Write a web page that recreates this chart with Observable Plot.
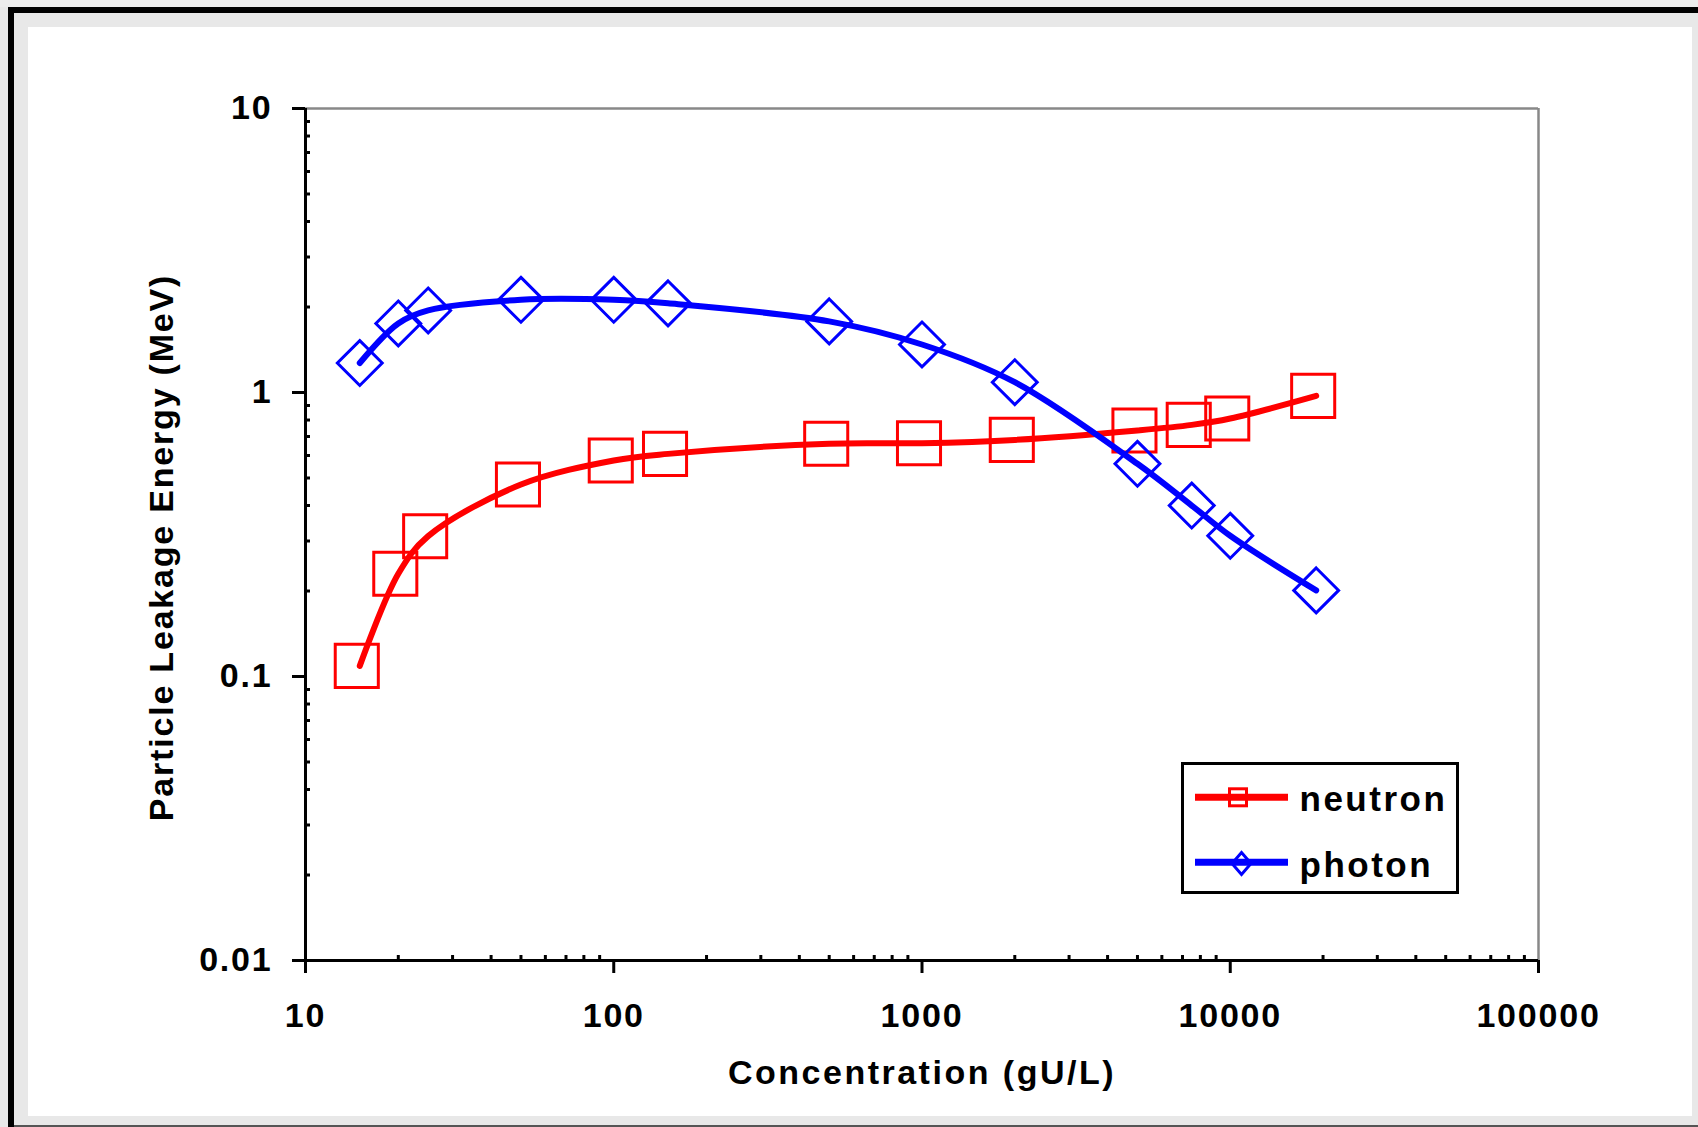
<!DOCTYPE html>
<html>
<head>
<meta charset="utf-8">
<script src="https://cdn.jsdelivr.net/npm/d3@7"></script>
<script src="https://cdn.jsdelivr.net/npm/@observablehq/plot@0.6"></script>
<style>
html, body { margin: 0; padding: 0; background: #e8e8e8; }
#page { position: relative; width: 1698px; height: 1127px; background: #e8e8e8; overflow: hidden; font-family: "Liberation Sans", Arial, sans-serif; }
#topstrip { position: absolute; left: 0; top: 0; width: 1698px; height: 7px; background: #ececec; }
#topbar { position: absolute; left: 8px; top: 7px; width: 1690px; height: 6px; background: #000; }
#leftbar { position: absolute; left: 8px; top: 7px; width: 6px; height: 1120px; background: #000; }
#bottomline { position: absolute; left: 14px; top: 1125px; width: 1684px; height: 2px; background: #555; }
#chart { position: absolute; left: 28px; top: 27px; width: 1664px; height: 1089px; background: #fff; }
#chart svg text { letter-spacing: 1.8px; }
#chart svg text.xtitle { letter-spacing: 2.5px; }
#chart svg text.ytitle { letter-spacing: 1.8px; }
#legend { position: absolute; left: 1179px; top: 760px; }
#legend text { letter-spacing: 2.5px; }
</style>
</head>
<body>
<div id="page">
  <div id="topstrip"></div>
  <div id="topbar"></div>
  <div id="leftbar"></div>
  <div id="bottomline"></div>
  <div id="chart"></div>
  <div id="legend"></div>
</div>
<script>
// ---- data ----
const concentration = [15, 20, 25, 50, 100, 150, 500, 1000, 2000, 5000, 7500, 10000, 19000];
const neutron = [0.109, 0.23, 0.312, 0.474, 0.576, 0.608, 0.66, 0.663, 0.681, 0.735, 0.769, 0.81, 0.973];
const photon = [1.27, 1.75, 1.945, 2.12, 2.12, 2.06, 1.78, 1.476, 1.087, 0.561, 0.40, 0.313, 0.201];
const seriesNames = ["neutron", "photon"];
const seriesColors = ["#ff0000", "#0000ff"];
const xTicks = [10, 100, 1000, 10000, 100000];
const yTicks = [0.01, 0.1, 1, 10];
const xTitle = "Concentration (gU/L)";
const yTitle = "Particle Leakage Energy (MeV)";

const neutronData = concentration.map((x, i) => ({x, y: neutron[i]}));
const photonData = concentration.map((x, i) => ({x, y: photon[i]}));

const minorX = [];
for (let i = 0; i < xTicks.length - 1; i++) for (let k = 2; k <= 9; k++) minorX.push(xTicks[i] * k);
const minorY = [];
for (let i = 0; i < yTicks.length - 1; i++) for (let k = 2; k <= 9; k++) minorY.push(+(yTicks[i] * k).toPrecision(6));

const W = 1664, H = 1089, ML = 277, MR = 154, MT = 81, MB = 156;
const FW = W - ML - MR, FH = H - MT - MB;
const font = "Liberation Sans, Arial, sans-serif";

const chart = Plot.plot({
  width: W, height: H,
  marginLeft: ML, marginRight: MR, marginTop: MT, marginBottom: MB,
  x: {type: "log", domain: [10, 100000]},
  y: {type: "log", domain: [0.01, 10]},
  style: {fontFamily: font, background: "transparent", color: "#000"},
  marks: [
    Plot.ruleY([10], {stroke: "#888", strokeWidth: 2.5}),
    Plot.ruleX([100000], {stroke: "#888", strokeWidth: 2.5}),
    Plot.tickX(minorX, {x: d => d, insetTop: FH - 5, stroke: "#000", strokeWidth: 3}),
    Plot.tickY(minorY, {y: d => d, insetRight: FW - 5, stroke: "#000", strokeWidth: 3}),
    Plot.axisX(xTicks, {tickSize: 13, tickPadding: 29, tickFormat: d => String(d), fontSize: 34, fontWeight: "bold", strokeWidth: 3, label: null}),
    Plot.axisY(yTicks, {tickSize: 13, tickPadding: 20, tickFormat: d => String(d), fontSize: 34, fontWeight: "bold", strokeWidth: 3, label: null}),
    Plot.ruleX([10], {stroke: "#000", strokeWidth: 3}),
    Plot.ruleY([0.01], {stroke: "#000", strokeWidth: 3}),
    Plot.line(neutronData, {x: "x", y: "y", stroke: seriesColors[0], strokeWidth: 6, curve: "catmull-rom"}),
    Plot.dot(neutronData, {x: "x", y: "y", dx: -3, symbol: "square", r: 24.3, stroke: seriesColors[0], strokeWidth: 3, fill: "none"}),
    Plot.line(photonData, {x: "x", y: "y", stroke: seriesColors[1], strokeWidth: 6, curve: "catmull-rom"}),
    Plot.dot(photonData, {x: "x", y: "y", symbol: "diamond2", r: 20.2, stroke: seriesColors[1], strokeWidth: 3, fill: "none"}),
    Plot.text([xTitle], {text: d => d, frameAnchor: "bottom", textAnchor: "middle", dy: 123, lineAnchor: "bottom", fontSize: 34, fontWeight: "bold"}),
    Plot.text([yTitle], {text: d => d, frameAnchor: "left", textAnchor: "middle", lineAnchor: "middle", dx: -143, dy: 13, rotate: -90, fontSize: 34, fontWeight: "bold"})
  ]
});
chart.querySelectorAll("g[aria-label=text] text").forEach(t => {
  if (t.textContent === xTitle) t.classList.add("xtitle");
  if (t.textContent === yTitle) t.classList.add("ytitle");
});
document.getElementById("chart").appendChild(chart);

// ---- legend ----
const ns = "http://www.w3.org/2000/svg";
const lg = document.createElementNS(ns, "svg");
lg.setAttribute("width", 284);
lg.setAttribute("height", 138);
lg.style.display = "block";
function el(tag, attrs, text) {
  const e = document.createElementNS(ns, tag);
  for (const k in attrs) e.setAttribute(k, attrs[k]);
  if (text != null) e.textContent = text;
  lg.appendChild(e);
  return e;
}
el("rect", {x: 3.5, y: 3.5, width: 275, height: 129, fill: "#fff", stroke: "#000", "stroke-width": 3});
const rows = [
  {y: 37.3, ty: 51, mx: 59, my: 37.3},
  {y: 102.3, ty: 116.5, mx: 62.5, my: 103.5}
];
seriesNames.forEach((name, i) => {
  const r = rows[i];
  el("line", {x1: 16, x2: 109, y1: r.y, y2: r.y, stroke: seriesColors[i], "stroke-width": 7});
  if (i === 0) {
    el("rect", {x: r.mx - 8.5, y: r.my - 8.5, width: 17, height: 17, fill: "none", stroke: seriesColors[i], "stroke-width": 3});
  } else {
    const hx = 9.5, hy = 11;
    el("path", {d: `M${r.mx},${r.my - hy}L${r.mx + hx},${r.my}L${r.mx},${r.my + hy}L${r.mx - hx},${r.my}Z`, fill: "none", stroke: seriesColors[i], "stroke-width": 3});
  }
  el("text", {x: 120.5, y: r.ty, "font-family": font, "font-size": 35, "font-weight": "bold", fill: "#000"}, name);
});
document.getElementById("legend").appendChild(lg);
</script>
</body>
</html>
